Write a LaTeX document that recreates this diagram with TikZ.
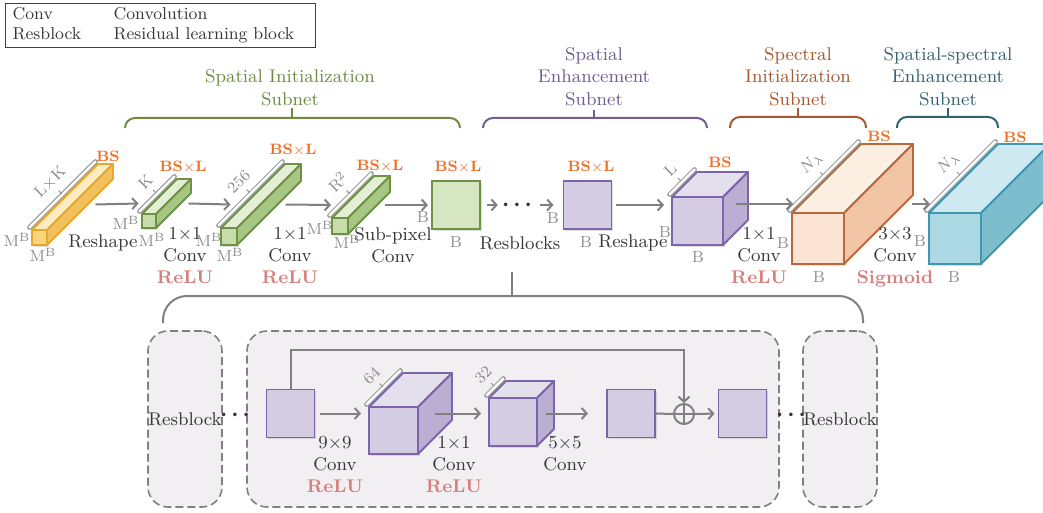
\documentclass[tikz,border=0pt]{standalone}
\usetikzlibrary{arrows.meta,calc,shadows}

\definecolor{txtgray}{RGB}{55,55,55}
\definecolor{dimgray}{RGB}{140,140,140}
\definecolor{arrgray}{RGB}{128,128,128}
\definecolor{bsorange}{RGB}{238,112,40}
\definecolor{actpink}{RGB}{214,128,128}
\definecolor{boxgray}{RGB}{241,239,242}
% subnet titles
\definecolor{tGrn}{RGB}{110,140,65}
\definecolor{tPur}{RGB}{112,92,150}
\definecolor{tBro}{RGB}{168,88,48}
\definecolor{tTea}{RGB}{52,98,112}
% feature maps: F front, T top, S side, E edge
\definecolor{yelF}{RGB}{248,212,125}
\definecolor{yelT}{RGB}{252,236,190}
\definecolor{yelS}{RGB}{242,192,90}
\definecolor{yelE}{RGB}{228,168,45}
\definecolor{grnF}{RGB}{200,222,170}
\definecolor{grnT}{RGB}{228,238,212}
\definecolor{grnS}{RGB}{168,198,132}
\definecolor{grnE}{RGB}{110,145,70}
\definecolor{grnL}{RGB}{214,230,194}
\definecolor{purF}{RGB}{212,204,226}
\definecolor{purT}{RGB}{228,223,237}
\definecolor{purS}{RGB}{186,174,210}
\definecolor{purE}{RGB}{125,100,170}
\definecolor{oraF}{RGB}{252,228,212}
\definecolor{oraT}{RGB}{253,238,226}
\definecolor{oraS}{RGB}{242,196,166}
\definecolor{oraE}{RGB}{185,105,60}
\definecolor{teaF}{RGB}{172,216,228}
\definecolor{teaT}{RGB}{206,233,240}
\definecolor{teaS}{RGB}{124,190,205}
\definecolor{teaE}{RGB}{66,150,175}

\tikzset{
  face/.style={inner sep=0pt, outer sep=0pt, line width=0.9pt,
    drop shadow={shadow xshift=0.8pt, shadow yshift=-0.8pt, opacity=0.25}},
  sq/.style={face, minimum size=24pt},
  dimbar/.style={draw=dimgray, double=white, double distance=1.4pt, line width=0.45pt, line cap=round},
  dim/.style={font=\fontsize{8}{9}\selectfont, text=dimgray, inner sep=0pt},
  bsl/.style={font=\fontsize{7.5}{9}\selectfont\bfseries, text=bsorange, inner sep=0pt},
  op/.style={font=\fontsize{9.2}{11}\selectfont, text=txtgray, inner sep=0pt, align=center},
  subnet/.style={font=\fontsize{9.2}{11.3}\selectfont, align=center, inner sep=0pt},
  arr/.style={draw=arrgray, line width=1pt, -{Straight Barb[length=2.5pt,width=5.5pt]}},
  brace/.style={line width=1pt, rounded corners=5pt},
  dashbox/.style={draw=arrgray, fill=boxgray, dash pattern=on 4pt off 2pt, line width=0.8pt,
    rounded corners=10pt, minimum height=88pt, inner sep=0pt, font=\fontsize{9.2}{11}\selectfont, text=txtgray},
  dotsn/.style={text=txtgray, inner sep=0pt, font=\fontsize{6}{6}\selectfont},
  legend/.style={draw=black!75, line width=0.6pt, inner xsep=3.5pt, inner ysep=1pt,
    font=\fontsize{8.6}{10.5}\selectfont, text=txtgray},
}

\newcommand{\BSL}{BS$\times$L}
\newcommand{\act}[1]{{\bfseries\color{actpink}#1}}
\newcommand{\dotrow}{\textbullet\textbullet\textbullet}

% feature cube: name, x, y (front top-left, px), w, h, depth, colour, depth label
\newcommand{\cuboid}[8]{%
  \node[face, fill=#7F, draw=#7E, minimum width=#4*0.5pt, minimum height=#5*0.5pt]
    (#1) at (#2+#4/2, #3+#5/2) {};
  \draw[#7E, fill=#7T, line width=0.9pt, line join=round]
    (#1.north west) -- ++(#6,-#6) -- ++(#4,0) -- (#1.north east) -- cycle;
  \draw[#7E, fill=#7S, line width=0.9pt, line join=round]
    (#1.north east) -- ++(#6,-#6) -- ++(0,#5) -- (#1.south east) -- cycle;
  \draw[dimbar] ($(#1.north west)+(-2.5,-2.5)$) -- ++(#6,-#6);
  \draw[dimgray, line width=0.5pt] ($(#1.north west)+(#6/2-3.5,-#6/2-3.5)$) -- ++(-3,-3);
  \node[dim, rotate=45, anchor=south] (#1-dim) at ($(#1.north west)+(#6/2-10,-#6/2-10)$) {#8};
  \pgfmathsetmacro\rowy{#3+#5/2-#6/2}
  \pgfmathsetmacro\outx{#2+#4+#6/2+(#6>#5)*(#5/2+8)}
  \pgfmathsetmacro\inx{#2+max((#6-#5)/2,0)-8-(#6>1.5*#5)*6}
  \coordinate (#1-in) at (\inx,\rowy);
  \coordinate (#1-out) at (\outx,\rowy);
}

\begin{document}
\begin{tikzpicture}[x=0.5pt, y=-0.5pt]
  \useasboundingbox (0,0) rectangle (1043,513);
  \clip (0,0) rectangle (1043,513);

  % legend
  \node[legend, anchor=north west] (leg) at (5,3) {\renewcommand{\arraystretch}{0.95}%
    \begin{tabular}{@{}p{50.5pt}@{}l@{\hspace{7pt}}}Conv & Convolution\\ Resblock & Residual learning block\end{tabular}};

  % subnet braces
  \draw[brace, tGrn] (125,128) -- (125,118) -- (460,118) -- (460,128);
  \draw[tGrn, line width=1pt] (292,118) -- (292,108);
  \node[subnet, text=tGrn] (tsi) at (290,87.5) {Spatial Initialization\\Subnet};
  \draw[brace, tPur] (483,128) -- (483,118) -- (707,118) -- (707,128);
  \draw[tPur, line width=1pt] (594,118) -- (594,110);
  \node[subnet, text=tPur] (tse) at (594,76.5) {Spatial\\Enhancement\\Subnet};
  \draw[brace, tBro] (730,128) -- (730,117) -- (866,117) -- (866,128);
  \draw[tBro, line width=1pt] (798,117) -- (798,108);
  \node[subnet, text=tBro] (tsp) at (798,76.5) {Spectral\\Initialization\\Subnet};
  \draw[brace, tTea] (897,128) -- (897,117) -- (998,117) -- (998,128);
  \draw[tTea, line width=1pt] (948,117) -- (948,108);
  \node[subnet, text=tTea] (tss) at (948,76.5) {Spatial-spectral\\Enhancement\\Subnet};

  % main pipeline
  \cuboid{b1}{32}{230}{15}{15}{66}{yel}{L$\times$K}
  \cuboid{b2}{142}{214}{14}{14}{35}{grn}{K}
  \cuboid{b3}{221}{228}{16}{17}{64}{grn}{256}
  \cuboid{b4}{332}{218}{16}{16}{42}{grn}{R\textsuperscript{2}}
  \node[sq, fill=grnL, draw=grnE] (s1) at (456,205) {};
  \node[dotsn] (d1) at (517,205) {\dotrow};
  \node[sq, fill=purF, draw=purE] (s2) at (587.5,205) {};
  \cuboid{b5}{672}{197}{51}{48}{25}{pur}{L}
  \cuboid{b6}{792}{213}{52}{51}{69}{ora}{$N_\lambda$}
  \cuboid{b7}{929}{213}{52}{51}{69}{tea}{$N_\lambda$}

  \draw[arr] (b1-out) -- (b2-in);
  \draw[arr] (b2-out) -- (b3-in);
  \draw[arr] (b3-out) -- (b4-in);
  \draw[arr, shorten >=2pt] (b4-out) -- (s1.west);
  \draw[arr, shorten <=3.5pt, shorten >=1pt] (s1.east) -- (d1.west |- s1.east);
  \draw[arr, shorten <=3pt, shorten >=5pt] (d1.east |- s2.west) -- (s2.west);
  \draw[arr, shorten <=2pt] (s2.east) -- (s2.east -| b5-in);
  \draw[arr] (b5-out |- b6-in) -- (b6-in);
  \draw[arr] (b6-out) -- (b7-in);

  % operations
  \node[op] (op1) at (103,243) {Reshape};
  \node[op, anchor=north] (op2) at (185,227) {1$\times$1\\Conv\\\act{ReLU}};
  \node[op, anchor=north] (op3) at (290,227) {1$\times$1\\Conv\\\act{ReLU}};
  \node[op, anchor=north] (op4) at (393,227) {Sub-pixel\\Conv};
  \node[op] (op5) at (520,243) {Resblocks};
  \node[op] (op6) at (633,243) {Reshape};
  \node[op, anchor=north] (op7) at (759,227) {1$\times$1\\Conv\\\act{ReLU}};
  \node[op, anchor=north] (op8) at (895,227) {3$\times$3\\Conv\\\act{Sigmoid}};

  % sizes
  \foreach \x/\y [count=\i] in {108/156, 720/162, 879/136, 1015/137}
    \node[bsl] (bs\i) at (\x,\y) {BS};
  \foreach \x/\y [count=\i] in {183/167, 293/150, 380/166, 458/167, 591/167}
    \node[bsl] (bsl\i) at (\x,\y) {\BSL};
  \foreach \x/\y [count=\i] in {17/240, 43/255, 126/223, 152/240, 209/240, 230/255, 320/228, 347/242}
    \node[dim] (m\i) at (\x,\y) {M\textsuperscript{B}};
  \foreach \x/\y [count=\i] in {423/217, 456/242, 553/218, 586/242, 665/232, 698/257, 783/243, 819/277,
      920/241, 954/277, 256/427, 291/453, 357/434, 395/463, 478/427, 516/457, 593/423, 628/453, 707/427, 740/453}
    \node[dim] (g\i) at (\x,\y) {B};

  % resblock detail
  \draw[brace, arrgray, rounded corners=12pt] (163,323) -- (163,296) -- (863,296) -- (863,323);
  \draw[arrgray, line width=1pt] (512,296) -- (512,272);
  \node[dashbox, minimum width=37pt] (rbl) at (185,419) {Resblock};
  \node[dashbox, minimum width=266pt] (rbm) at (513,419) {};
  \node[dashbox, minimum width=37pt] (rbr) at (840,419) {Resblock};
  \node[dotsn] (d2) at (235,415) {\dotrow};
  \node[dotsn] (d3) at (791,415) {\dotrow};

  \node[sq, fill=purF, draw=purE] (qa) at (290.5,413.5) {};
  \cuboid{b8}{369}{407}{49}{47}{34}{pur}{64}
  \cuboid{b9}{489}{398}{48}{48}{17}{pur}{32}
  \node[sq, fill=purF, draw=purE] (qd) at (631,413.5) {};
  \node[circle, draw=arrgray, fill=boxgray, line width=1pt, minimum size=10pt, inner sep=0pt] (plus) at (684,414) {};
  \draw[arrgray, line width=1pt] (plus.north) -- (plus.south) (plus.west) -- (plus.east);
  \node[sq, fill=purF, draw=purE] (qe) at (742.5,413.5) {};

  \draw[arr, shorten <=2.5pt] (qa.east) -- (b8-in);
  \draw[arr] (b8-out) -- (b9-in);
  \draw[arr, shorten >=9.5pt] (b9-out) -- (qd.west);
  \draw[arrgray, line width=1pt] (qd.east) -- (plus.west);
  \draw[arr, shorten >=2pt] (plus.east) -- (qe.west);
  \draw[arr] (qa.north) -- ++(0,-40) -| (plus.north);

  \node[op, anchor=north] (op9) at (335,436) {9$\times$9\\Conv\\\act{ReLU}};
  \node[op, anchor=north] (op10) at (454,436) {1$\times$1\\Conv\\\act{ReLU}};
  \node[op, anchor=north] (op11) at (565,436) {5$\times$5\\Conv};
\end{tikzpicture}
\end{document}
